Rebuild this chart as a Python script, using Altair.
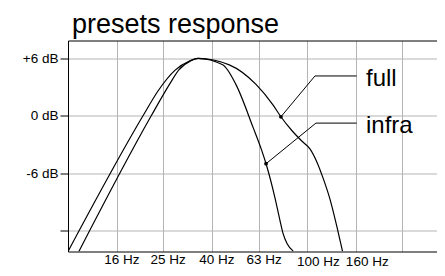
import altair as alt
import pandas as pd

# ---- data ----
full_hz = [10.0, 20.6, 23.8, 28.0, 32.4, 35.0, 47.3, 61.2, 72.3, 77.8, 86.6, 95.3,
           102.9, 110.1, 117.0, 124.8, 133.1, 140.8]
full_db = [-14.16, 0.0, 2.59, 4.74, 5.74, 6.0, 5.32, 3.28, 1.09, -0.1, -1.56, -2.65,
           -3.45, -4.84, -6.56, -8.70, -11.47, -14.12]

infra_hz = [11.1, 22.3, 26.7, 29.1, 32.7, 35.0, 44.4, 50.4, 59.6, 64.6, 67.4, 73.5,
            77.1, 79.4, 82.5, 87.6]
infra_db = [-14.16, 0.0, 3.36, 4.79, 5.76, 6.0, 5.32, 3.28, -1.26, -3.58, -5.0, -8.58,
            -10.93, -12.27, -13.33, -14.12]

# callouts: dot on curve -> elbow -> end of leader
full_leader_hz = [77.8, 108.0, 161.4]
full_leader_db = [-0.1, 4.16, 4.16]
infra_leader_hz = [67.4, 109.0, 161.4]
infra_leader_db = [-5.0, -0.76, -0.76]

label_names = ["full", "infra"]
label_hz = [176.6, 176.6]
label_db = [3.13, -1.76]

x_ticks = [16, 25, 40, 63, 100, 160, 250]
y_ticks = [-12, -6, 0, 6]

# ---- tables ----
curves = pd.concat([
    pd.DataFrame({"hz": full_hz, "db": full_db, "series": "full", "i": range(len(full_hz))}),
    pd.DataFrame({"hz": infra_hz, "db": infra_db, "series": "infra", "i": range(len(infra_hz))}),
])
leaders = pd.concat([
    pd.DataFrame({"hz": full_leader_hz, "db": full_leader_db, "series": "full", "i": range(3)}),
    pd.DataFrame({"hz": infra_leader_hz, "db": infra_leader_db, "series": "infra", "i": range(3)}),
])
dots = pd.DataFrame({"hz": [full_leader_hz[0], infra_leader_hz[0]],
                     "db": [full_leader_db[0], infra_leader_db[0]]})
labels = pd.DataFrame({"hz": label_hz, "db": label_db, "name": label_names})

FONT = "Liberation Sans"
GRID = "#b4b4b4"

x_scale = alt.Scale(type="log", domain=[10, 350], nice=False)
y_scale = alt.Scale(domain=[-14.16, 7.86], nice=False, zero=False)

X_bottom = alt.X(
    "hz:Q",
    scale=x_scale,
    axis=alt.Axis(
        values=x_ticks,
        title=None,
        grid=True,
        gridColor=GRID,
        gridWidth=1,
        ticks=False,
        domain=True,
        domainColor="black",
        domainWidth=1,
        labelExpr="datum.value == 250 ? '' : datum.value + ' Hz'",
        labelFont=FONT,
        labelFontSize=13.5,
        labelColor="black",
        labelBaseline="top",
        labelOffset={"condition": {"test": "datum.value >= 100", "value": 11}, "value": 4.5},
        labelPadding={"condition": {"test": "datum.value >= 100", "value": 2.5}, "value": 1.0},
        labelFlush=False,
        labelOverlap=False,
    ),
)
X_top = alt.X(
    "hz:Q",
    scale=x_scale,
    axis=alt.Axis(
        orient="top", title=None, labels=False, ticks=False, grid=False,
        domain=True, domainColor="black", domainWidth=1,
    ),
)
X_none = alt.X("hz:Q", scale=x_scale, axis=None)

Y = alt.Y(
    "db:Q",
    scale=y_scale,
    axis=alt.Axis(
        values=y_ticks,
        title=None,
        grid=True,
        gridColor=GRID,
        gridWidth=1,
        ticks=True,
        tickSize=8,
        tickColor="black",
        domain=True,
        domainColor="black",
        labelExpr="datum.value == -12 ? '' : (datum.value > 0 ? '+' : '') + datum.value + ' dB'",
        labelFont=FONT,
        labelFontSize=13.5,
        labelColor="black",
        labelPadding=2,
        labelFlush=False,
        labelOverlap=False,
    ),
)

curve_layer = alt.Chart(curves).mark_line(
    interpolate="monotone", color="black", strokeWidth=1.2, clip=True
).encode(x=X_bottom, y=Y, detail="series:N", order="i:Q")

leader_layer = alt.Chart(leaders).mark_line(
    color="black", strokeWidth=1
).encode(x=X_none, y=Y, detail="series:N", order="i:Q")

dot_layer = alt.Chart(dots).mark_circle(color="black", size=14, opacity=1).encode(x=X_top, y=Y)

text_layer = alt.Chart(labels).mark_text(
    align="left", baseline="alphabetic", font=FONT, fontSize=24, color="black"
).encode(x=X_none, y=Y, text="name:N")

chart = alt.layer(curve_layer, leader_layer, dot_layer, text_layer).resolve_axis(
    x="independent"
).properties(
    width=369,
    height=211,
    autosize=alt.AutoSizeParams(type="none"),
    padding={"left": 60, "top": 32.5, "right": 0, "bottom": 16.5},
    title=alt.TitleParams(
        "presets response",
        font=FONT,
        fontSize=27,
        fontWeight="normal",
        color="black",
        anchor="start",
        frame="group",
        dx=4,
        offset=2.0,
        baseline="top",
    ),
    background="white",
).configure_view(strokeWidth=0)

chart.save("out.html", embed_options={"renderer": "svg", "actions": False})
